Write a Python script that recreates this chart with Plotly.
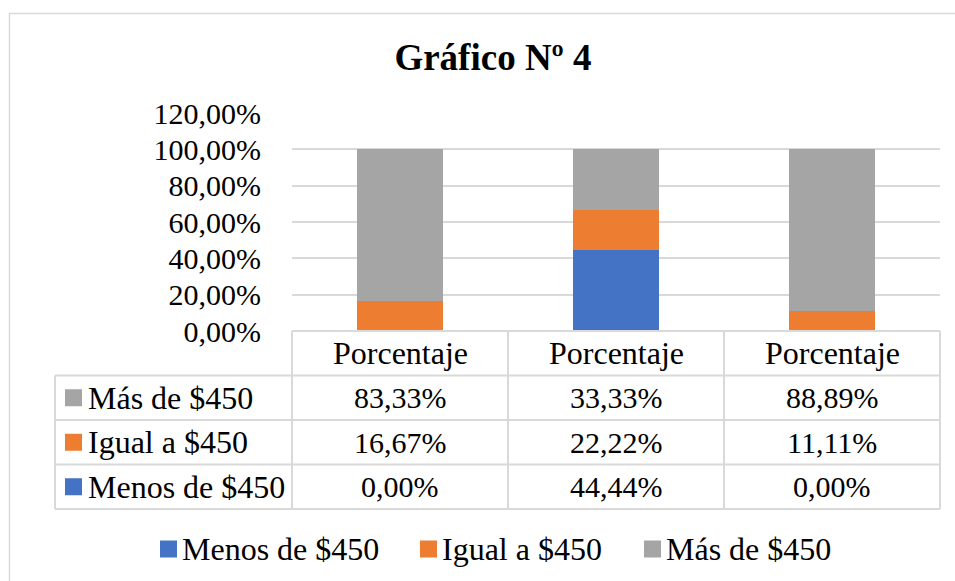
import plotly.graph_objects as go

# ----------------- data ----------------- #
categorias = ["Porcentaje", "Porcentaje", "Porcentaje"]
series = ["Menos de $450", "Igual a $450", "Más de $450"]
menos = [0.00, 44.44, 0.00]
igual = [16.67, 22.22, 11.11]
mas = [83.33, 33.33, 88.89]
colores = ["#4472C4", "#ED7D31", "#A5A5A5"]

W, H = 955, 581
FONT = "Liberation Serif, Times New Roman, serif"
GRID = "#D9D9D9"


def fx(x):
    return x / W


def fy(y):
    return 1 - y / H


def pct(v):
    return f"{v:.2f}%".replace(".", ",")


valores = [menos, igual, mas]
xs = list(range(len(categorias)))

fig = go.Figure()
for nombre, vals, col in zip(series, valores, colores):
    fig.add_trace(go.Bar(x=xs, y=[v / 100 for v in vals], name=nombre,
                         marker=dict(color=col, line=dict(width=0)), width=0.4))

# table geometry (pixels)
tab_left, col0, tab_right = 55, 292, 940
head_top = 331
row_h = 44.5
rows_top = head_top + row_h
col_w = (tab_right - col0) / len(categorias)
tab_bottom = rows_top + len(series) * row_h

shapes = []
# outer chart border
shapes.append(dict(type="rect", xref="paper", yref="paper", x0=fx(9.5), x1=1.05,
                   y0=-0.05, y1=fy(13.5), line=dict(color=GRID, width=1.5)))
line = dict(color=GRID, width=2)
shapes.append(dict(type="line", xref="paper", yref="paper", x0=fx(col0), x1=fx(tab_right),
                   y0=fy(head_top), y1=fy(head_top), line=line))
for i in range(len(series) + 1):
    yy = rows_top + i * row_h
    shapes.append(dict(type="line", xref="paper", yref="paper", x0=fx(tab_left), x1=fx(tab_right),
                       y0=fy(yy), y1=fy(yy), line=line))
shapes.append(dict(type="line", xref="paper", yref="paper", x0=fx(tab_left), x1=fx(tab_left),
                   y0=fy(rows_top), y1=fy(tab_bottom), line=line))
for j in range(len(categorias) + 1):
    xx = col0 + j * col_w
    shapes.append(dict(type="line", xref="paper", yref="paper", x0=fx(xx), x1=fx(xx),
                       y0=fy(head_top), y1=fy(tab_bottom), line=line))

txt = dict(family=FONT, size=32, color="black")
num = dict(family=FONT, size=30, color="black")

annotations = []
for j, cat in enumerate(categorias):
    annotations.append(dict(x=j, xref="x", y=fy(head_top + row_h / 2), yref="paper", text=cat,
                            showarrow=False, xanchor="center", yanchor="middle", font=txt))

# rows top to bottom: Más, Igual, Menos
orden = list(reversed(range(len(series))))
for r, k in enumerate(orden):
    yc = rows_top + r * row_h + row_h / 2
    shapes.append(dict(type="rect", xref="paper", yref="paper", x0=fx(65), x1=fx(82),
                       y0=fy(yc + 8.5), y1=fy(yc - 8.5), fillcolor=colores[k], line=dict(width=0)))
    annotations.append(dict(x=fx(86), xref="paper", y=fy(yc), yref="paper", text=series[k],
                            showarrow=False, xanchor="left", yanchor="middle", font=txt))
    for j, v in enumerate(valores[k]):
        annotations.append(dict(x=j, xref="x", y=fy(yc), yref="paper", text=pct(v),
                                showarrow=False, xanchor="center", yanchor="middle", font=num))

# legend below the table
leg_x = [160, 420, 644]
leg_y = 549
for k, x0 in enumerate(leg_x):
    shapes.append(dict(type="rect", xref="paper", yref="paper", x0=fx(x0), x1=fx(x0 + 17),
                       y0=fy(leg_y + 8.5), y1=fy(leg_y - 8.5), fillcolor=colores[k], line=dict(width=0)))
    annotations.append(dict(x=fx(x0 + 20), xref="paper", y=fy(leg_y), yref="paper", text=series[k],
                            showarrow=False, xanchor="left", yanchor="middle", font=txt))

fig.update_layout(
    width=W, height=H,
    barmode="stack",
    separators=",.",
    plot_bgcolor="white", paper_bgcolor="white",
    margin=dict(l=0, r=0, t=0, b=0),
    title=dict(text="<b>Gráfico Nº 4</b>", x=fx(493), y=fy(57), xanchor="center", yanchor="middle",
               font=dict(family=FONT, size=37, color="black")),
    xaxis=dict(domain=[fx(col0), fx(tab_right)], range=[-0.5, len(categorias) - 0.5],
               showticklabels=False, showgrid=False, zeroline=False, showline=False,
               automargin=False),
    yaxis=dict(domain=[fy(head_top), fy(113)], range=[0, 1.2], dtick=0.2, tickformat=".2%",
               showgrid=True, gridcolor=GRID, gridwidth=1.5, zeroline=False, showline=False,
               ticks="", ticklabelstandoff=30, automargin=False,
               tickfont=dict(family=FONT, size=30, color="black")),
    shapes=shapes,
    annotations=annotations,
    showlegend=False,
)

fig.write_html("out.html", config={"displayModeBar": False},
               post_script="document.body.style.margin='0';")
